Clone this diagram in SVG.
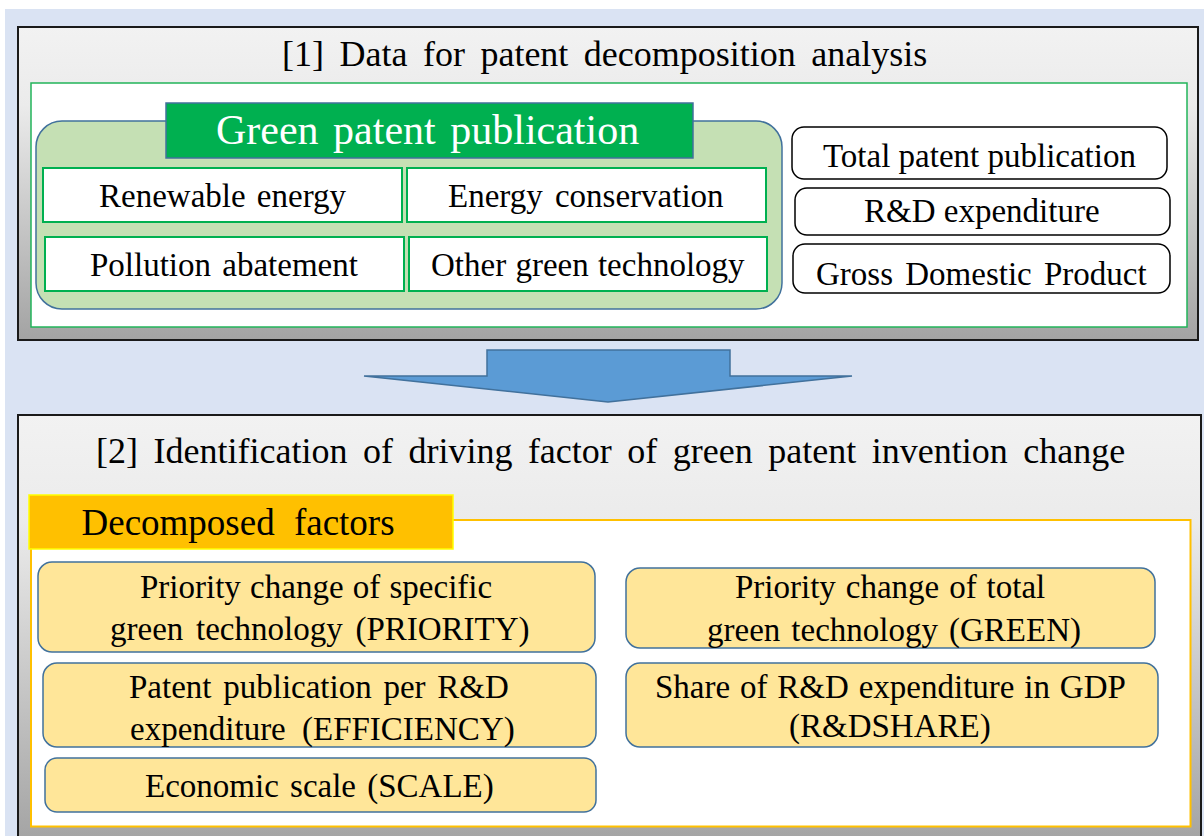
<svg xmlns="http://www.w3.org/2000/svg" width="1204" height="836" viewBox="0 0 1204 836">
<defs>
<linearGradient id="panelGrad" x1="0" y1="0" x2="0" y2="1">
<stop offset="0" stop-color="#F2F2F2"/>
<stop offset="0.25" stop-color="#EBEBEB"/>
<stop offset="1" stop-color="#A3A3A3"/>
</linearGradient>
<style>
text{font-family:"Liberation Serif","Times New Roman",serif;fill:#000;stroke:none;}
.panel{fill:url(#panelGrad);stroke:#1a1a1a;stroke-width:2;}
.sub{fill:#fff;stroke:#00B050;stroke-width:2;}
.data{fill:#fff;stroke:#000;stroke-width:1.5;}
.factor{fill:#FFE699;stroke:#41719C;stroke-width:1.5;}
.t33{font-size:33px;}
.t36{font-size:36px;word-spacing:6.5px;}
</style>
</defs>
<rect x="0" y="0" width="1204" height="836" fill="#fff"/>
<rect x="5" y="9" width="1199" height="827" fill="#DAE3F3"/>

<g id="panel1">
<rect class="panel" x="18" y="27" width="1180" height="313"/>
<text class="t36" x="282" y="66">[1] Data for patent decomposition analysis</text>
<rect x="31" y="83" width="1156" height="244" fill="#fff" stroke="#22B45A" stroke-width="1.5"/>
</g>

<g id="green-patent">
<rect x="36" y="121" width="746" height="188" rx="26" fill="#C5E0B4" stroke="#41719C" stroke-width="1.5"/>
<rect x="166" y="103" width="527" height="55" fill="#00B050" stroke="#41719C" stroke-width="1.5"/>
<text font-size="42" word-spacing="4" x="216" y="144" style="fill:#fff">Green patent publication</text>
</g>

<g id="renewable">
<rect class="sub" x="43" y="168" width="359" height="54"/>
<text class="t33" word-spacing="3" x="99" y="207">Renewable energy</text>
</g>
<g id="conservation">
<rect class="sub" x="407" y="168" width="359" height="54"/>
<text class="t33" word-spacing="4" x="448" y="207">Energy conservation</text>
</g>
<g id="pollution">
<rect class="sub" x="45" y="237" width="359" height="54"/>
<text class="t33" word-spacing="3" x="90" y="276">Pollution abatement</text>
</g>
<g id="other">
<rect class="sub" x="409" y="237" width="358" height="54"/>
<text class="t33" word-spacing="1" x="431" y="276">Other green technology</text>
</g>

<g id="total-patent">
<rect class="data" x="792" y="127" width="375" height="52" rx="12"/>
<text class="t33" x="823" y="167">Total patent publication</text>
</g>
<g id="rd-expenditure">
<rect class="data" x="795" y="188" width="375" height="47" rx="12"/>
<text class="t33" x="864" y="222">R&amp;D expenditure</text>
</g>
<g id="gdp">
<rect class="data" x="793" y="244" width="377" height="49" rx="12"/>
<text class="t33" word-spacing="4" x="816" y="285">Gross Domestic Product</text>
</g>

<g id="connectors">
<polygon points="487,350 730,350 730,376 852,376 608,402 364,376 487,376" fill="#5B9BD5" stroke="#41719C" stroke-width="1.5"/>
</g>

<g id="panel2">
<rect class="panel" x="18" y="415" width="1183" height="430"/>
<text class="t36" x="96" y="463">[2] Identification of driving factor of green patent invention change</text>
<rect x="31" y="520" width="1159.5" height="306.5" fill="#fff" stroke="#FFC000" stroke-width="2"/>
</g>

<g id="decomposed">
<rect x="29" y="495" width="424" height="54" fill="#FFC000" stroke="#FFFF00" stroke-width="1.5"/>
<text font-size="37" word-spacing="10" x="81.5" y="535">Decomposed factors</text>
</g>

<g id="priority">
<rect class="factor" x="38" y="562" width="557" height="90" rx="14"/>
<text class="t33" word-spacing="1" x="140" y="598">Priority change of specific</text>
<text class="t33" word-spacing="4.5" x="110" y="640">green technology (PRIORITY)</text>
</g>
<g id="efficiency">
<rect class="factor" x="43" y="663" width="553" height="84" rx="14"/>
<text class="t33" word-spacing="3.5" x="129" y="698">Patent publication per R&amp;D</text>
<text class="t33" word-spacing="8" x="130" y="740">expenditure (EFFICIENCY)</text>
</g>
<g id="scale">
<rect class="factor" x="45" y="758" width="551" height="54" rx="12"/>
<text class="t33" word-spacing="3" x="145" y="797">Economic scale (SCALE)</text>
</g>
<g id="green">
<rect class="factor" x="626" y="568" width="529" height="80" rx="14"/>
<text class="t33" word-spacing="1.7" x="735" y="598">Priority change of total</text>
<text class="t33" word-spacing="2.8" x="707" y="641">green technology (GREEN)</text>
</g>
<g id="rdshare">
<rect class="factor" x="626" y="663" width="532" height="84" rx="14"/>
<text class="t33" word-spacing="1.6" x="655" y="698">Share of R&amp;D expenditure in GDP</text>
<text class="t33" x="789" y="737">(R&amp;DSHARE)</text>
</g>
</svg>
